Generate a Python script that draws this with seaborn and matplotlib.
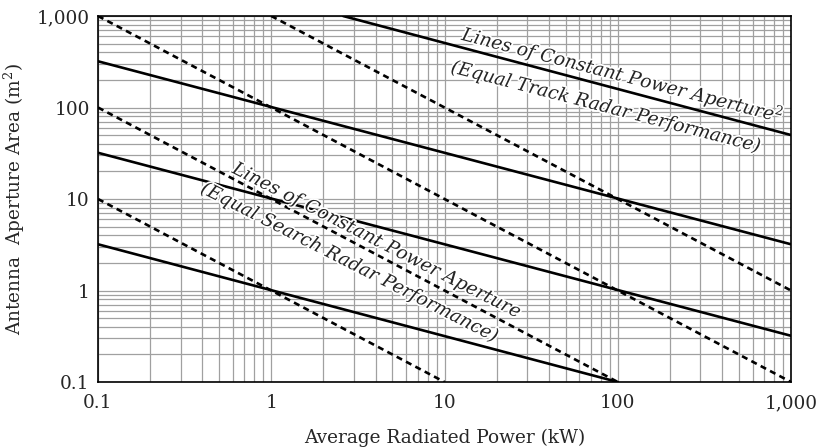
import numpy as np
import pandas as pd
import seaborn as sns
import matplotlib.pyplot as plt
import matplotlib.ticker as mticker
import matplotlib.patheffects as pe

# Endpoints (log-log, so two points define each line)
# Solid: constant power-aperture^2 (track radar)
solid_x0 = [0.1, 0.1, 0.1, 2.6]
solid_x1 = [100, 1000, 1000, 1000]
solid_y0 = [3.2, 32, 320, 1000]
solid_y1 = [0.1, 0.32, 3.2, 50]
# Dashed: constant power-aperture (search radar)
dashed_x0 = [0.1, 0.1, 0.1, 1]
dashed_x1 = [10, 100, 1000, 1000]
dashed_y0 = [10, 100, 1000, 1000]
dashed_y1 = [0.1, 0.1, 0.1, 1]

tick_values = [0.1, 1, 10, 100, 1000]

rows = []
for i in range(len(solid_x0)):
    rows.append(("s%d" % i, "solid", solid_x0[i], solid_y0[i]))
    rows.append(("s%d" % i, "solid", solid_x1[i], solid_y1[i]))
for i in range(len(dashed_x0)):
    rows.append(("d%d" % i, "dashed", dashed_x0[i], dashed_y0[i]))
    rows.append(("d%d" % i, "dashed", dashed_x1[i], dashed_y1[i]))
df = pd.DataFrame(rows, columns=["line", "kind", "power", "area"])

sns.set_style("white")
plt.rcParams["font.family"] = ["DejaVu Serif"]
plt.rcParams["mathtext.fontset"] = "dejavuserif"

fig = plt.figure(figsize=(8.24, 4.48), dpi=100)
ax = fig.add_axes([98 / 824, 1 - 382 / 448, (791 - 98) / 824, (382 - 16) / 448])

sns.lineplot(data=df, x="power", y="area", units="line", style="kind",
             dashes={"solid": "", "dashed": (2.3, 1.7)}, estimator=None,
             color="black", lw=1.9, legend=False, ax=ax, zorder=3)

ax.set_xscale("log")
ax.set_yscale("log")
ax.set_xlim(0.1, 1000)
ax.set_ylim(0.1, 1000)

fmt = mticker.FuncFormatter(lambda v, p: "{:,g}".format(v))
for axis in (ax.xaxis, ax.yaxis):
    axis.set_major_locator(mticker.FixedLocator(tick_values))
    axis.set_major_formatter(fmt)
    axis.set_minor_locator(mticker.LogLocator(base=10, subs=np.arange(2, 10)))
    axis.set_minor_formatter(mticker.NullFormatter())

ax.grid(which="both", color="#a0a0a0", lw=0.9)
ax.tick_params(which="both", length=0, labelsize=13.3)
ax.tick_params(axis="x", pad=9)
ax.tick_params(axis="y", pad=6)
for s in ax.spines.values():
    s.set_color("black")
    s.set_linewidth(1.2)

ax.set_xlabel("Average Radiated Power (kW)", fontsize=13.3, labelpad=12)
ax.set_ylabel("Antenna  Aperture Area (m$^2$)", fontsize=13.3, labelpad=7)

halo = [pe.withStroke(linewidth=2.5, foreground="white")]
label_kw = dict(ha="center", va="center", rotation_mode="anchor", style="italic",
                fontsize=13.4, path_effects=halo, zorder=4)
# track radar label (along the solid lines)
ax.text(107, 226, "Lines of Constant Power Aperture$^2$", rotation=-14.5, **label_kw)
ax.text(85, 101, "(Equal Track Radar Performance)", rotation=-14.5, **label_kw)
# search radar label (along the dashed lines)
ax.text(4.05, 3.5, "Lines of Constant Power Aperture", rotation=-27, **label_kw)
ax.text(2.82, 2.02, "(Equal Search Radar Performance)", rotation=-27, **label_kw)

fig.savefig("out.png", dpi=100)
